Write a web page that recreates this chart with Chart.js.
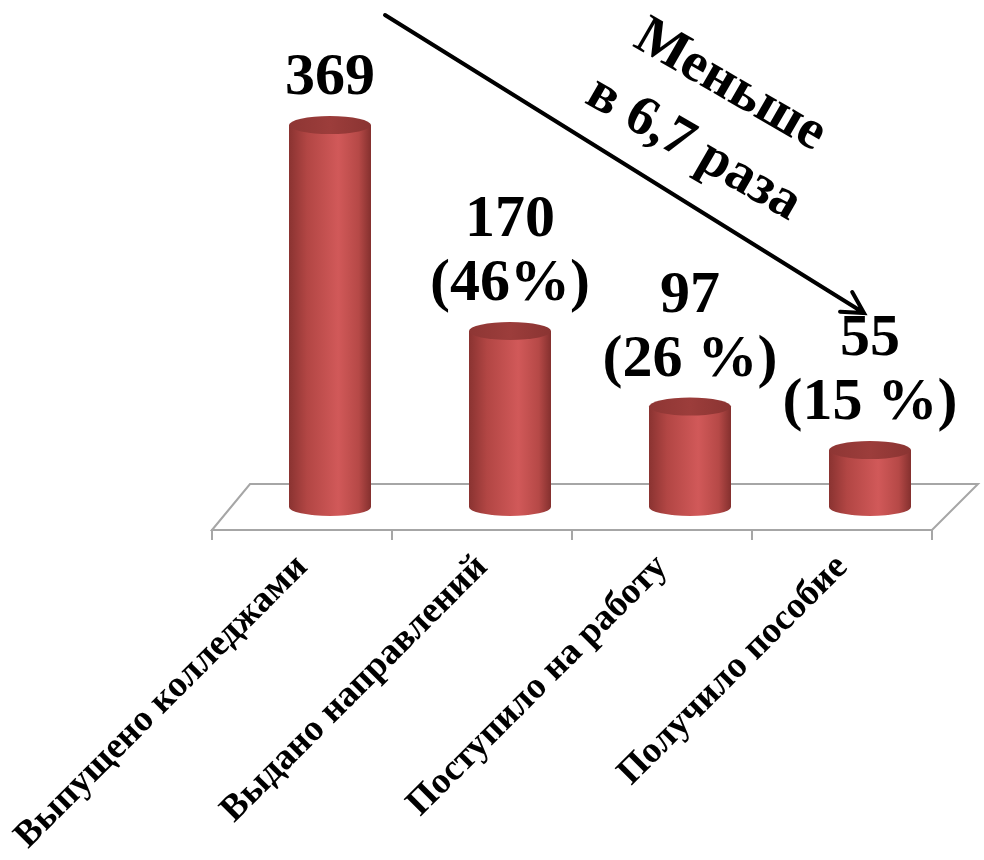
<!DOCTYPE html>
<html lang="ru">
<head>
<meta charset="utf-8">
<title>Выпускники колледжей</title>
<script src="https://cdn.jsdelivr.net/npm/chart.js@4.4.1/dist/chart.umd.min.js"></script>
<style>
  html, body { margin: 0; padding: 0; background: #fff; }
  .wrap { width: 984px; height: 860px; }
</style>
</head>
<body>
<div class="wrap"><canvas id="myChart"></canvas></div>
<script>
// data
const categories = ['Выпущено колледжами', 'Выдано направлений', 'Поступило на работу', 'Получило пособие'];
const values = [369, 170, 97, 55];
const shares = ['', '(46%)', '(26 %)', '(15 %)'];

const serif = '"Liberation Serif", "Times New Roman", serif';

// 3d look: cylinders stand in the middle of the floor depth
const depthX = 28, depthY = 23;
const radiusX = 41, radiusY = 9;

const cylinders = {
  id: 'cylinders',
  beforeDatasetsDraw(chart) {
    const { ctx, chartArea } = chart;
    const b = chartArea.bottom, l = chartArea.left, r = chartArea.right;
    // floor
    ctx.save();
    ctx.beginPath();
    ctx.moveTo(l, b);
    ctx.lineTo(l + 38, b - 46);
    ctx.lineTo(r + 46, b - 46);
    ctx.lineTo(r, b);
    ctx.closePath();
    ctx.fillStyle = '#fff';
    ctx.fill();
    ctx.strokeStyle = '#a6a6a6';
    ctx.lineWidth = 2;
    ctx.stroke();
    ctx.restore();
  },
  afterDatasetsDraw(chart) {
    const ctx = chart.ctx;
    const meta = chart.getDatasetMeta(0);
    meta.data.forEach((bar, i) => {
      const cx = bar.x + depthX;
      const top = bar.y - depthY;
      const bottom = bar.base - depthY;
      ctx.save();

      // body
      const g = ctx.createLinearGradient(cx - radiusX, 0, cx + radiusX, 0);
      g.addColorStop(0, '#8a3331');
      g.addColorStop(0.22, '#b24644');
      g.addColorStop(0.6, '#d15959');
      g.addColorStop(0.85, '#b64947');
      g.addColorStop(1, '#84302e');
      ctx.beginPath();
      ctx.moveTo(cx - radiusX, top);
      ctx.lineTo(cx - radiusX, bottom);
      ctx.ellipse(cx, bottom, radiusX, radiusY, 0, Math.PI, 0, true);
      ctx.lineTo(cx + radiusX, top);
      ctx.closePath();
      ctx.fillStyle = g;
      ctx.fill();

      // top cap
      const t = ctx.createLinearGradient(cx - radiusX, 0, cx + radiusX, 0);
      t.addColorStop(0, '#8e3634');
      t.addColorStop(0.5, '#9c3d3b');
      t.addColorStop(1, '#8a3432');
      ctx.beginPath();
      ctx.ellipse(cx, top, radiusX, radiusY, 0, 0, Math.PI * 2);
      ctx.fillStyle = t;
      ctx.fill();

      // labels above
      const lines = shares[i] ? [String(values[i]), shares[i]] : [String(values[i])];
      ctx.fillStyle = '#000';
      ctx.font = 'bold 60px ' + serif;
      ctx.textAlign = 'center';
      ctx.textBaseline = 'alphabetic';
      let y = top - radiusY - 22;
      for (let k = lines.length - 1; k >= 0; k--) {
        ctx.fillText(lines[k], cx, y);
        y -= 64;
      }
      ctx.restore();
    });
  }
};

const note = {
  id: 'note',
  afterDraw(chart) {
    const ctx = chart.ctx;
    ctx.save();
    // arrow
    const x1 = 385, y1 = 15, x2 = 864, y2 = 313;
    ctx.strokeStyle = '#000';
    ctx.lineWidth = 4;
    ctx.lineCap = 'round';
    ctx.beginPath();
    ctx.moveTo(x1, y1);
    ctx.lineTo(x2, y2);
    const a = Math.atan2(y2 - y1, x2 - x1);
    const head = 24, spread = 0.5;
    ctx.moveTo(x2 - head * Math.cos(a - spread), y2 - head * Math.sin(a - spread));
    ctx.lineTo(x2, y2);
    ctx.lineTo(x2 - head * Math.cos(a + spread), y2 - head * Math.sin(a + spread));
    ctx.stroke();

    // rotated text
    ctx.translate(712, 117);
    ctx.rotate(30 * Math.PI / 180);
    ctx.fillStyle = '#000';
    ctx.font = 'bold 56px ' + serif;
    ctx.textAlign = 'center';
    ctx.textBaseline = 'middle';
    ctx.fillText('Меньше', 0, -36);
    ctx.fillText('в 6,7 раза', 0, 37);
    ctx.restore();
  }
};

const ctx = document.getElementById('myChart');

const chart = new Chart(ctx, {
  type: 'bar',
  data: {
    labels: categories,
    datasets: [{
      data: values,
      backgroundColor: 'rgba(0,0,0,0)',
      borderWidth: 0
    }]
  },
  options: {
    responsive: true,
    maintainAspectRatio: false,
    animation: false,
    layout: { padding: { left: 212, right: 52, top: 116, bottom: 0 } },
    plugins: {
      legend: { display: false },
      tooltip: { enabled: false }
    },
    scales: {
      x: {
        offset: true,
        grid: {
          offset: true,
          drawOnChartArea: false,
          drawTicks: true,
          tickLength: 10,
          color: '#a6a6a6',
          lineWidth: 2
        },
        border: { display: true, color: '#a6a6a6', width: 2 },
        ticks: {
          color: '#000',
          font: { family: serif, size: 37, weight: 'bold' },
          minRotation: 45,
          maxRotation: 45,
          autoSkip: false,
          padding: 6
        },
        afterFit(scale) {
          // long rotated labels may run into the left margin, keep the plot where it is
          scale.height = 330;
          scale.paddingLeft = 0;
        }
      },
      y: {
        display: false,
        min: 0,
        max: 400
      }
    }
  },
  plugins: [cylinders, note]
});
</script>
</body>
</html>
